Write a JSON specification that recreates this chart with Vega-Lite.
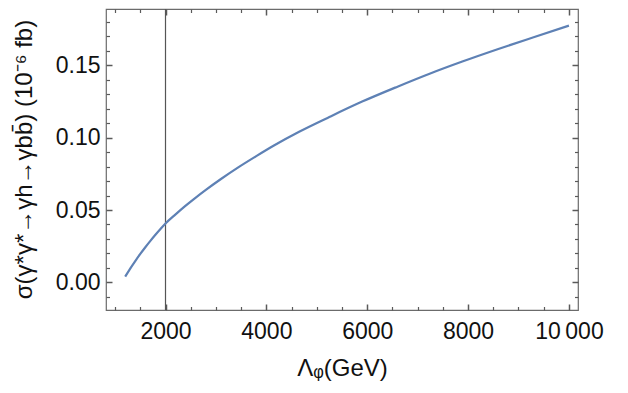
{
  "$schema": "https://vega.github.io/schema/vega-lite/v6.json",
  "width": 472,
  "height": 301,
  "autosize": {"type": "none"},
  "padding": {"left": 106, "top": 9, "right": 50, "bottom": 83},
  "config": {
    "view": {"stroke": "#6b6b6b", "strokeWidth": 1.2},
    "font": "Liberation Sans"
  },
  "datasets": {
    "curve": [
      {"L": 1200, "s": 0.0040},
      {"L": 1300, "s": 0.0096},
      {"L": 1400, "s": 0.0148},
      {"L": 1500, "s": 0.0197},
      {"L": 1600, "s": 0.0243},
      {"L": 1700, "s": 0.0287},
      {"L": 1800, "s": 0.0329},
      {"L": 1900, "s": 0.0369},
      {"L": 2000, "s": 0.0407},
      {"L": 2200, "s": 0.0470},
      {"L": 2400, "s": 0.0530},
      {"L": 2600, "s": 0.0586},
      {"L": 2800, "s": 0.0639},
      {"L": 3100, "s": 0.0714},
      {"L": 3450, "s": 0.0796},
      {"L": 3800, "s": 0.0872},
      {"L": 4150, "s": 0.0945},
      {"L": 4650, "s": 0.1040},
      {"L": 5250, "s": 0.1142},
      {"L": 5900, "s": 0.1248},
      {"L": 6600, "s": 0.1351},
      {"L": 7250, "s": 0.1442},
      {"L": 7900, "s": 0.1526},
      {"L": 8600, "s": 0.1611},
      {"L": 9300, "s": 0.1692},
      {"L": 10000, "s": 0.1772}
    ],
    "marker": [{"L": 2000}]
  },
  "resolve": {"axis": {"x": "independent", "y": "independent"}},
  "layer": [
    {
      "data": {"name": "marker"},
      "mark": {"type": "rule", "color": "#555555", "strokeWidth": 1.2},
      "encoding": {
        "x": {"field": "L", "type": "quantitative", "scale": {"domain": [820, 10180], "zero": false, "nice": false}, "axis": null}
      }
    },
    {
      "data": {"name": "curve"},
      "mark": {"type": "line", "strokeOpacity": 0},
      "encoding": {
        "x": {"field": "L", "type": "quantitative", "scale": {"domain": [820, 10180], "zero": false, "nice": false},
          "axis": {"orient": "top", "values": [2000,4000,6000,8000,10000], "labels": false, "title": null, "domain": false, "gridOpacity": 0,
            "tickColor": "#5a5a5a", "tickWidth": 1.5, "tickSize": 6, "offset": -6}},
        "y": {"field": "s", "type": "quantitative", "scale": {"domain": [-0.019, 0.1887], "zero": false, "nice": false},
          "axis": {"orient": "right", "values": [0,0.05,0.1,0.15], "labels": false, "title": null, "domain": false, "gridOpacity": 0,
            "tickColor": "#5a5a5a", "tickWidth": 1.5, "tickSize": 6, "offset": -6}}
      }
    },
    {
      "data": {"name": "curve"},
      "mark": {"type": "line", "strokeOpacity": 0},
      "encoding": {
        "x": {"field": "L", "type": "quantitative", "scale": {"domain": [820, 10180], "zero": false, "nice": false},
          "axis": {"orient": "top", "values": [1000,1500,2500,3000,3500,4500,5000,5500,6500,7000,7500,8500,9000,9500], "labels": false, "title": null, "domain": false, "gridOpacity": 0,
            "tickColor": "#5a5a5a", "tickWidth": 1.2, "tickSize": 3.5, "offset": -3.5}},
        "y": {"field": "s", "type": "quantitative", "scale": {"domain": [-0.019, 0.1887], "zero": false, "nice": false},
          "axis": {"orient": "right", "values": [-0.01,0.01,0.02,0.03,0.04,0.06,0.07,0.08,0.09,0.11,0.12,0.13,0.14,0.16,0.17,0.18], "labels": false, "title": null, "domain": false, "gridOpacity": 0,
            "tickColor": "#5a5a5a", "tickWidth": 1.2, "tickSize": 3.5, "offset": -3.5}}
      }
    },
    {
      "data": {"name": "curve"},
      "mark": {"type": "line", "strokeOpacity": 0},
      "encoding": {
        "x": {"field": "L", "type": "quantitative", "scale": {"domain": [820, 10180], "zero": false, "nice": false},
          "axis": {"orient": "bottom", "values": [1000,1500,2500,3000,3500,4500,5000,5500,6500,7000,7500,8500,9000,9500], "labels": false, "title": null, "domain": false, "gridOpacity": 0,
            "tickColor": "#5a5a5a", "tickWidth": 1.2, "tickSize": 3.5, "offset": -3.5}},
        "y": {"field": "s", "type": "quantitative", "scale": {"domain": [-0.019, 0.1887], "zero": false, "nice": false},
          "axis": {"orient": "left", "values": [-0.01,0.01,0.02,0.03,0.04,0.06,0.07,0.08,0.09,0.11,0.12,0.13,0.14,0.16,0.17,0.18], "labels": false, "title": null, "domain": false, "gridOpacity": 0,
            "tickColor": "#5a5a5a", "tickWidth": 1.2, "tickSize": 3.5, "offset": -3.5}}
      }
    },
    {
      "data": {"name": "curve"},
      "mark": {"type": "line", "color": "#5E81B5", "strokeWidth": 2.2, "interpolate": "monotone"},
      "encoding": {
        "x": {"field": "L", "type": "quantitative", "scale": {"domain": [820, 10180], "zero": false, "nice": false},
          "axis": {"orient": "bottom", "values": [2000,4000,6000,8000,10000],
            "format": "d",
            "labelExpr": "datum.value === 10000 ? '10\u2009000' : datum.label",
            "labelFont": "Liberation Sans", "labelFontSize": 23, "labelColor": "#111111",
            "labelPadding": 10,
            "domain": false, "gridOpacity": 0,
            "tickColor": "#5a5a5a", "tickWidth": 1.5, "tickSize": 6,
            "offset": -6,
            "title": "Λᵩ(GeV)",
            "titleFont": "Liberation Sans", "titleFontSize": 24, "titleFontWeight": "normal", "titleColor": "#111111",
            "titleY": 71,
            "titleBaseline": "alphabetic"}},
        "y": {"field": "s", "type": "quantitative", "scale": {"domain": [-0.019, 0.1887], "zero": false, "nice": false},
          "axis": {"orient": "left", "values": [0,0.05,0.1,0.15],
            "format": ".2f",
            "labelFont": "Liberation Sans", "labelFontSize": 23, "labelColor": "#111111",
            "labelPadding": 6,
            "domain": false, "gridOpacity": 0,
            "tickColor": "#5a5a5a", "tickWidth": 1.5, "tickSize": 6,
            "offset": -6,
            "title": "σ(γ*γ*→γh→γbb̄) (10⁻⁶ fb)",
            "titleFont": "Liberation Sans", "titleFontSize": 24, "titleFontWeight": "normal", "titleColor": "#111111",
            "titleX": -88,
            "titleY": 150,
            "titleAngle": -90,
            "titleAlign": "center",
            "titleBaseline": "middle"}}
      }
    }
  ]
}
